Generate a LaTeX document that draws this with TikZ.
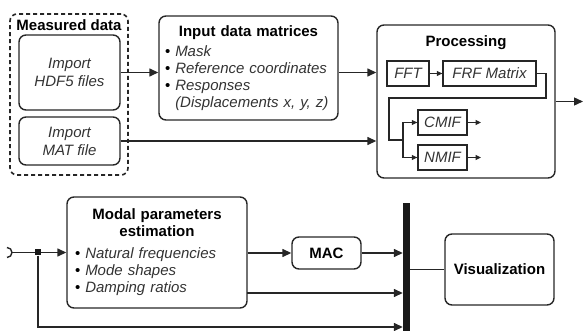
\documentclass[tikz,border=0pt]{standalone}
\usepackage{fontspec}
\setmainfont{Liberation Sans}
\usetikzlibrary{arrows.meta,positioning,calc}
\tikzset{
  blk/.style={rectangle, rounded corners=7pt, draw=black!85, line width=1.4pt,
    align=center, inner sep=3pt, font=\fontsize{15}{17}\selectfont},
  sub/.style={rectangle, draw=black!85, line width=1.3pt, inner sep=2pt,
    minimum height=25pt, font=\fontsize{15}{17}\selectfont\itshape, text=black!80},
  grp/.style={blk, dash pattern=on 4pt off 3pt, line width=1.6pt},
  ttl/.style={font=\fontsize{15}{17}\selectfont\bfseries, inner sep=1pt},
  flow/.style={-{Triangle[length=9pt, width=8pt]}, line width=1.4pt, draw=black!85},
  tinyflow/.style={-{Triangle[length=5.5pt, width=5pt]}, line width=1.1pt, draw=black!85},
  wire/.style={line width=1.4pt, draw=black!85},
}
\newcommand{\itm}[1]{\textbullet\ \textit{\color{black!80}#1}}

\begin{document}
\begin{tikzpicture}[x=1pt, y=-1pt,
  imp/.style={blk, font=\fontsize{15}{18}\selectfont\itshape, text=black!80, minimum width=101pt},
  lst/.style={blk, align=left}]
  \useasboundingbox (0,0) rectangle (584,331);
  % measured data
  \node[grp, minimum width=118pt, minimum height=161pt] (meas) at (69,94.5) {};
  \node[ttl] (meastitle) at (69,25) {Measured data};
  \node[imp, minimum height=75pt] (hdf) at (69.5,72.5) {Import\\HDF5 files};
  \node[imp, minimum height=48pt] (mat) at (69.5,141) {Import\\MAT file};
  % input data matrices
  \node[lst, minimum width=179pt, minimum height=104pt, text width=167pt] (input) at (248.5,68)
    {{\centering\bfseries Input data matrices\par}\vspace{3pt}
     \itm{Mask}\\
     \itm{Reference coordinates}\\
     \itm{Responses}\\
     \phantom{\textbullet\ }\textit{\color{black!80}(Displacements x, y, z)}};
  \draw[flow] (hdf.east) -- (hdf.east -| input.west);
  % processing
  \node[blk, minimum width=178pt, minimum height=153pt] (proc) at (466,101.5) {};
  \node[ttl] (proctitle) at (466,43) {Processing};
  \node[sub, minimum width=42pt] (fft) at (408,73.5) {FFT};
  \node[sub, minimum width=93pt] (frf) at (489.5,73.5) {FRF Matrix};
  \node[sub, minimum width=49pt] (cmif) at (442.5,122.5) {CMIF};
  \node[sub, minimum width=49pt] (nmif) at (442.5,157.5) {NMIF};
  \coordinate (turn) at (546,98);
  \coordinate (split) at (389,140);
  \coordinate (fork) at (403,140);
  \coordinate (cmifout) at (481,122.5);
  \coordinate (nmifout) at (481,157.5);
  \coordinate (procout) at (583,101.5);
  \draw[tinyflow] (fft) -- (frf);
  \draw[wire] (frf.east) -| (turn) -| (split) -- (fork);
  \draw[tinyflow] (fork) |- (cmif.west);
  \draw[tinyflow] (fork) |- (nmif.west);
  \draw[tinyflow] (cmif.east) -- (cmifout);
  \draw[tinyflow] (nmif.east) -- (nmifout);
  \draw[flow] (input.east |- hdf.east) -- (proc.west |- hdf.east);
  \draw[flow] (mat.east) -- (mat.east -| proc.west);
  \draw[flow] (proc.east) -- (procout);
  % modal parameters, MAC, visualization
  \node[lst, minimum width=180pt, minimum height=111pt, text width=164pt] (modal) at (157,252.5)
    {{\centering\bfseries Modal parameters\\estimation\par}\vspace{5pt}
     \itm{Natural frequencies}\\
     \itm{Mode shapes}\\
     \itm{Damping ratios}};
  \node[blk, font=\fontsize{15}{17}\selectfont\bfseries, minimum width=69pt, minimum height=32pt] (mac) at (326.5,253) {MAC};
  \node[fill=black!90, minimum width=7pt, minimum height=128pt, inner sep=0pt] (bus) at (406.5,267) {};
  \node[blk, font=\fontsize{15}{17}\selectfont\bfseries, minimum width=109pt, minimum height=71pt] (vis) at (499.5,269.5) {Visualization};
  \coordinate (cont) at (12,252.5);
  \coordinate (tapdown) at (38,327);
  \coordinate (dampout) at (247,293);
  \node[fill=black!90, minimum size=6pt, inner sep=0pt] (tap) at (38,252.5) {};
  \draw[wire] (cont) ++(-5,-5) arc[start angle=-90, end angle=90, radius=5];
  \draw[wire] (cont) -- (tap);
  \draw[flow] (tap) -- (modal.west |- tap);
  \draw[flow] (tap) |- (bus.west |- tapdown);
  \draw[flow] (modal.east |- mac) -- (mac.west);
  \draw[flow] (mac.east) -- (bus.west |- mac);
  \draw[flow] (dampout) -- (bus.west |- dampout);
  \draw[wire] (bus.east |- vis) -- (vis.west);
\end{tikzpicture}
\end{document}
